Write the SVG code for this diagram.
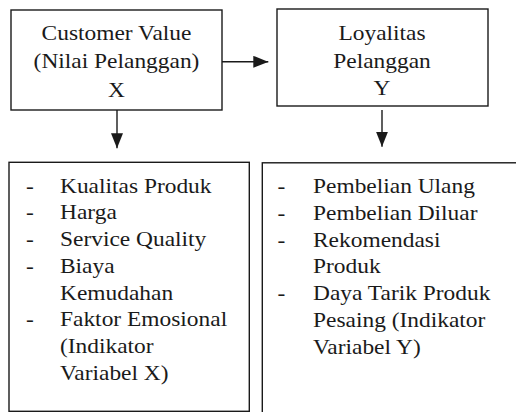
<svg xmlns="http://www.w3.org/2000/svg" width="516" height="412" viewBox="0 0 516 412">
  <style>
    .box { fill: #ffffff; stroke: #1a1a1a; stroke-width: 1.4; }
    .t { font-family: "Liberation Serif", "Times New Roman", serif; font-size: 21.5px; fill: #1a1a1a; }
    .c { text-anchor: middle; }
    .conn { stroke: #1a1a1a; stroke-width: 1.4; fill: none; }
  </style>
  <defs>
    <marker id="ah" viewBox="0 0 15 12" refX="15" refY="6" markerWidth="15" markerHeight="12" markerUnits="userSpaceOnUse" orient="auto">
      <path d="M0,0 L15,6 L0,12 z" fill="#1a1a1a"/>
    </marker>
  </defs>
  <rect width="516" height="412" fill="#ffffff"/>

  <g id="node-customer-value">
    <rect class="box" x="11" y="10" width="211" height="100"/>
    <text class="t c" transform="translate(116.5,40) scale(1.09,1)">Customer Value</text>
    <text class="t c" transform="translate(116.5,68) scale(1.09,1)">(Nilai Pelanggan)</text>
    <text class="t c" transform="translate(116.5,96.5) scale(1.09,1)">X</text>
  </g>

  <g id="node-loyalitas">
    <rect class="box" x="277" y="9" width="211" height="97"/>
    <text class="t c" transform="translate(382,40) scale(1.09,1)">Loyalitas</text>
    <text class="t c" transform="translate(382,68.3) scale(1.09,1)">Pelanggan</text>
    <text class="t c" transform="translate(382,95) scale(1.09,1)">Y</text>
  </g>

  <g id="node-indikator-x">
    <rect class="box" x="9" y="162.3" width="240.3" height="249"/>
    <text class="t" transform="translate(26,192.7) scale(1.09,1)">-</text>
    <text class="t" transform="translate(60,192.7) scale(1.09,1)">Kualitas Produk</text>
    <text class="t" transform="translate(26,219.4) scale(1.09,1)">-</text>
    <text class="t" transform="translate(60,219.4) scale(1.09,1)">Harga</text>
    <text class="t" transform="translate(26,246.1) scale(1.09,1)">-</text>
    <text class="t" transform="translate(60,246.1) scale(1.09,1)">Service Quality</text>
    <text class="t" transform="translate(26,272.8) scale(1.09,1)">-</text>
    <text class="t" transform="translate(60,272.8) scale(1.09,1)">Biaya</text>
    <text class="t" transform="translate(60,299.5) scale(1.09,1)">Kemudahan</text>
    <text class="t" transform="translate(26,326.2) scale(1.09,1)">-</text>
    <text class="t" transform="translate(60,326.2) scale(1.09,1)">Faktor Emosional</text>
    <text class="t" transform="translate(60,352.9) scale(1.09,1)">(Indikator</text>
    <text class="t" transform="translate(60,379.6) scale(1.09,1)">Variabel X)</text>
  </g>

  <g id="node-indikator-y">
    <rect class="box" x="262.3" y="162.8" width="270" height="270"/>
    <text class="t" transform="translate(277.5,193.3) scale(1.09,1)">-</text>
    <text class="t" transform="translate(313,193.3) scale(1.09,1)">Pembelian Ulang</text>
    <text class="t" transform="translate(277.5,220) scale(1.09,1)">-</text>
    <text class="t" transform="translate(313,220) scale(1.09,1)">Pembelian Diluar</text>
    <text class="t" transform="translate(277.5,246.7) scale(1.09,1)">-</text>
    <text class="t" transform="translate(313,246.7) scale(1.09,1)">Rekomendasi</text>
    <text class="t" transform="translate(313,273.4) scale(1.09,1)">Produk</text>
    <text class="t" transform="translate(277.5,300.1) scale(1.09,1)">-</text>
    <text class="t" transform="translate(313,300.1) scale(1.09,1)">Daya Tarik Produk</text>
    <text class="t" transform="translate(313,326.8) scale(1.09,1)">Pesaing (Indikator</text>
    <text class="t" transform="translate(313,353.5) scale(1.09,1)">Variabel Y)</text>
  </g>

  <g id="connectors">
    <line class="conn" x1="222" y1="61.8" x2="268.3" y2="61.8" marker-end="url(#ah)"/>
    <line class="conn" x1="117" y1="110" x2="117" y2="148.3" marker-end="url(#ah)"/>
    <line class="conn" x1="382" y1="110" x2="382" y2="146.7" marker-end="url(#ah)"/>
  </g>
</svg>
